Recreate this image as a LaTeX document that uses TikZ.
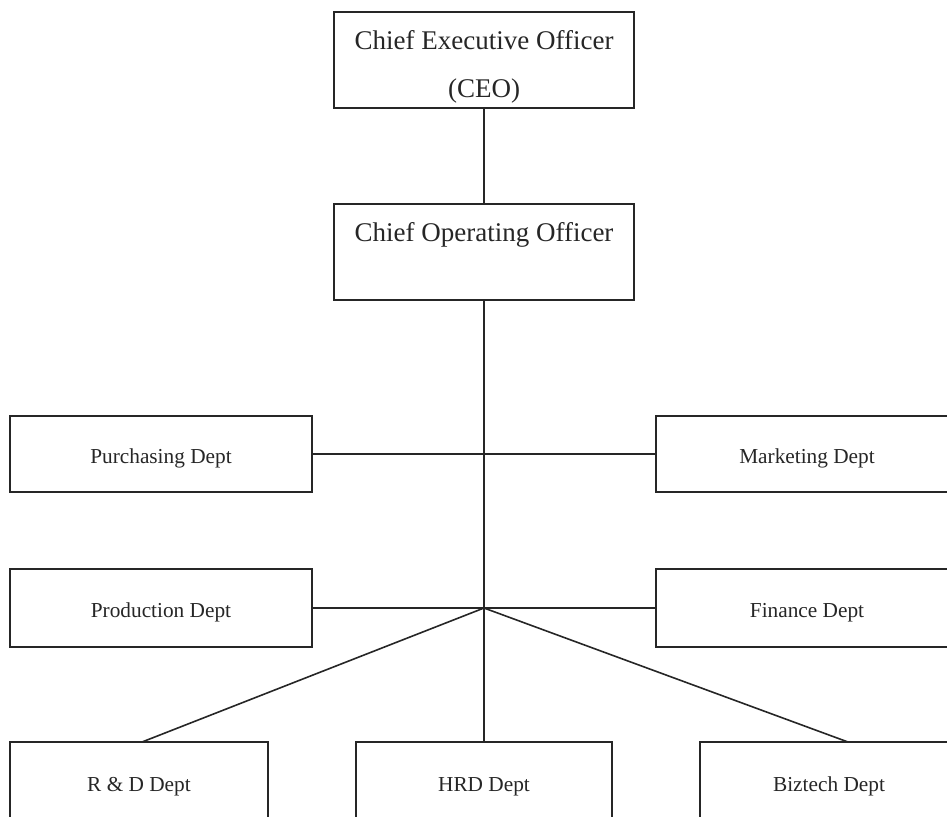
\documentclass[tikz,border=0pt]{standalone}
\usepackage{fontspec}
\setmainfont{Liberation Serif}
\begin{document}
\begin{tikzpicture}[x=1pt,y=-1pt,
  line/.style={line width=1.6pt,black!85},
  bigbox/.style={draw=black!85,line width=1.8pt,minimum width=300pt,minimum height=96pt,inner sep=0pt},
  bigtext/.style={inner sep=0pt,anchor=base,font=\fontsize{27}{32}\selectfont,text=black!85},
  deptbox/.style={draw=black!85,line width=1.8pt,minimum height=76pt,inner sep=0pt,
     text height=23pt,text depth=4.6pt,text=black!85,
     font=\fontsize{21.3}{25}\selectfont}]
\useasboundingbox (0,0) rectangle (947,816);
\clip (0,0) rectangle (947,816);
\node[bigbox] (ceo) at (484,60) {};
\node[bigtext] (ceo1) at ([yshift=-38pt]ceo.north) {Chief Executive Officer};
\node[bigtext] (ceo2) at ([yshift=-86pt]ceo.north) {(CEO)};
\node[bigbox] (coo) at (484,252) {};
\node[bigtext] (coo1) at ([yshift=-38pt]coo.north) {Chief Operating Officer};
\node[deptbox,minimum width=302pt] (pur) at (161,454) {Purchasing Dept};
\node[deptbox,minimum width=302pt] (mkt) at (807,454) {Marketing Dept};
\node[deptbox,minimum width=302pt,minimum height=78pt] (pro) at (161,608) {Production Dept};
\node[deptbox,minimum width=302pt,minimum height=78pt] (fin) at (807,608) {Finance Dept};
\node[deptbox,minimum width=258pt,minimum height=80pt] (rnd) at (139,782) {R \& D Dept};
\node[deptbox,minimum width=256pt,minimum height=80pt] (hrd) at (484,782) {HRD Dept};
\node[deptbox,minimum width=258pt,minimum height=80pt] (biz) at (829,782) {Biztech Dept};
\coordinate (j) at (484,608);
\coordinate (rt) at (142,742);
\coordinate (bt) at (848,742);
\draw[line] (ceo.south) -- (coo.north);
\draw[line] (coo.south) -- (j);
\draw[line] (pur.east) -- (mkt.west);
\draw[line] (pro.east) -- (fin.west);
\draw[line] (j) -- (rt);
\draw[line] (j) -- (hrd.north);
\draw[line] (j) -- (bt);
\end{tikzpicture}
\end{document}
